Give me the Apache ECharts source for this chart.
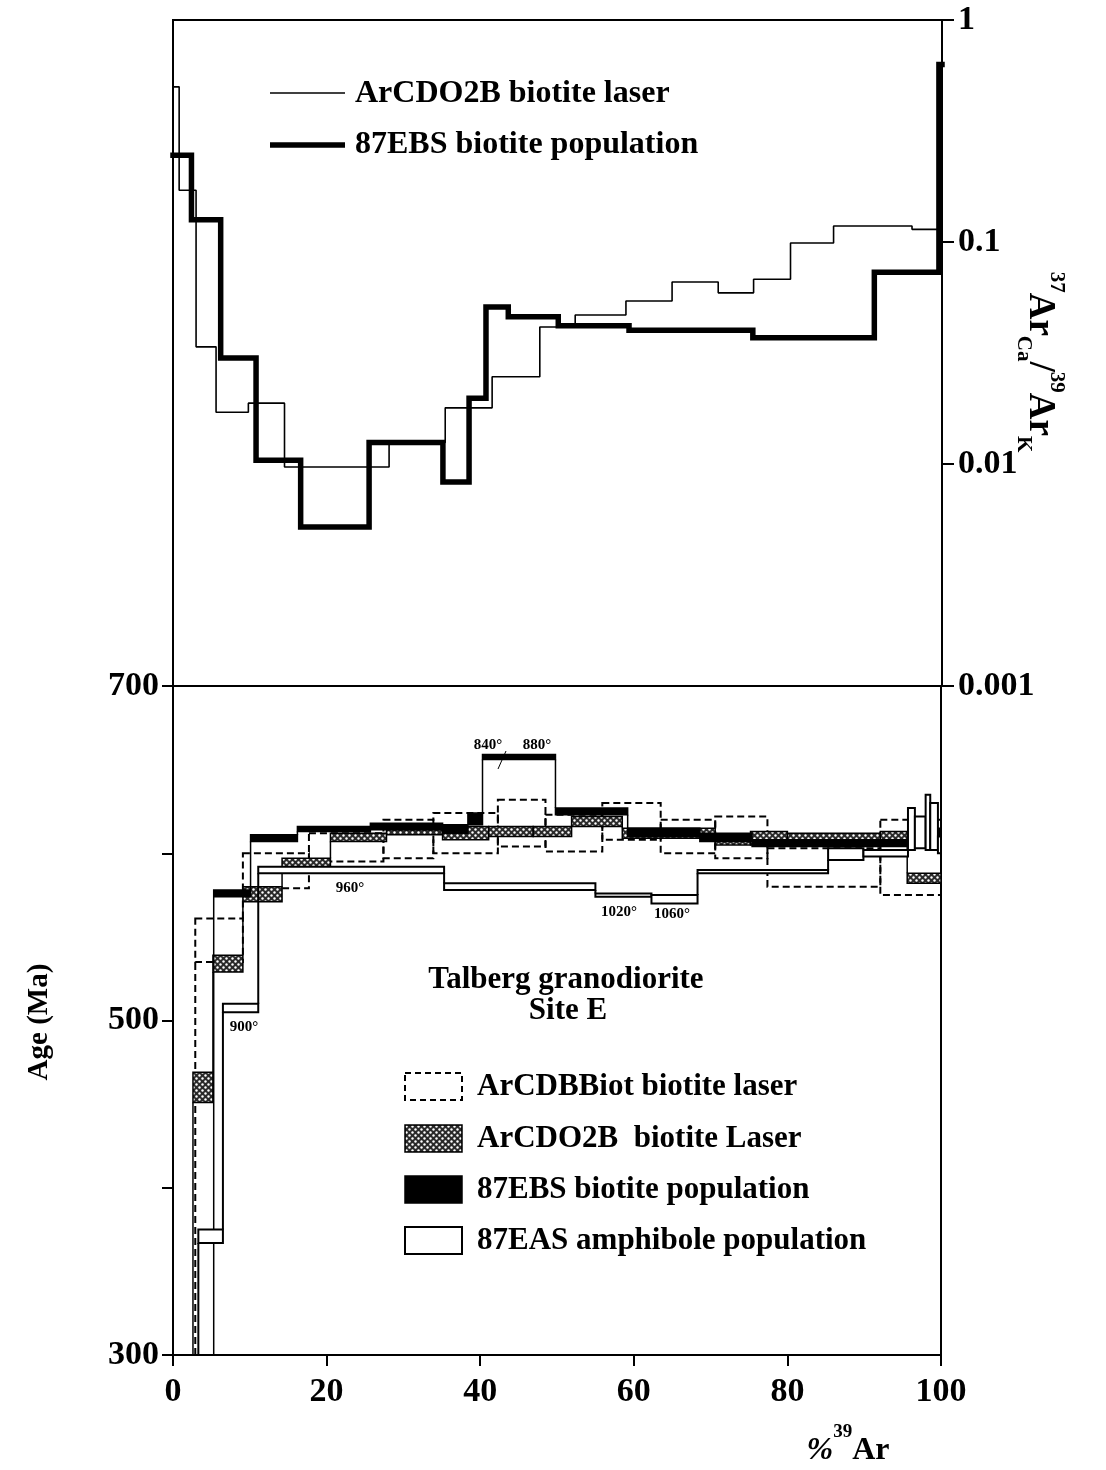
<!DOCTYPE html>
<html>
<head>
<meta charset="utf-8">
<script src="https://cdn.jsdelivr.net/npm/echarts@6/dist/echarts.min.js"></script>
<style>
html, body { margin: 0; padding: 0; background: #fff; }
#chart { width: 1106px; height: 1470px; }
</style>
</head>
<body>
<div id="chart"></div>
<script>
// top panel: 37ArCa/39ArK step spectra, x = cumulative %39Ar released
var ratioLaserBounds = [0, 0.8, 3.0, 5.6, 9.8, 14.5, 28.1, 35.4, 41.5, 47.7, 52.3, 58.9, 64.9, 70.9, 75.5, 80.3, 85.9, 96.1, 100];
var ratioLaserValues = [0.50, 0.171, 0.0337, 0.0171, 0.0188, 0.0097, 0.0125, 0.0179, 0.0247, 0.0414, 0.0469, 0.0542, 0.066, 0.059, 0.068, 0.099, 0.118, 0.114];
var ratioPopBounds = [0, 2.4, 6.2, 10.8, 16.6, 25.5, 35.1, 38.5, 40.7, 43.6, 50.1, 59.3, 75.4, 91.2, 99.6, 100];
var ratioPopValues = [0.246, 0.126, 0.030, 0.0104, 0.0052, 0.0125, 0.0083, 0.0198, 0.051, 0.046, 0.042, 0.040, 0.037, 0.073, 0.63];

// bottom panel: age spectra (Ma), each step = [bound i, bound i+1] x [low, high]
var cdbBounds = [0, 2.9, 9.1, 17.7, 27.4, 33.9, 42.3, 48.5, 55.9, 63.5, 70.6, 77.4, 92.1, 100];
var cdbLow    = [250, 535, 579, 595, 597, 600, 604, 601, 608, 600, 597, 580, 575];
var cdbHigh   = [260, 561, 600, 612, 620, 624, 632, 623, 630, 620, 622, 603, 620];

var cdoBounds = [0, 2.6, 5.2, 9.1, 14.2, 20.5, 27.8, 35.1, 41.1, 46.9, 51.9, 58.5, 70.6, 75.2, 80.0, 92.1, 95.6, 100];
var cdoLow    = [250, 451, 529, 571, 590, 607, 611, 608, 610, 610, 616, 609, 605, 605, 607, 606, 582];
var cdoHigh   = [260, 469, 539, 580, 597, 612, 614, 616, 616, 616, 622, 615, 611, 613, 612, 613, 588];

var ebsBounds = [0, 5.3, 10.1, 16.2, 25.7, 35.1, 38.4, 40.3, 49.8, 59.2, 68.6, 75.4, 99.3, 100];
var ebsLow    = [250, 574, 607, 613, 614, 612, 617, 656, 623, 610, 607, 604, 606];
var ebsHigh   = [260, 578, 611, 616, 618, 617, 624, 659, 627, 615, 612, 608, 615];

var easBounds = [0, 3.3, 6.5, 11.1, 35.3, 55.0, 62.3, 68.3, 85.3, 89.9, 95.7, 96.6, 98.0, 98.6, 99.6, 100];
var easLow    = [250, 367, 505, 588, 578, 574, 570, 588, 596, 598, 602, 603, 602, 602, 600];
var easHigh   = [260, 375, 510, 592, 582, 576, 575, 590, 603, 602, 627, 622, 635, 630, 610];

var xTicks = [0, 20, 40, 60, 80, 100];
var ageLabels = [300, 500, 700];

var FONT = 'Liberation Serif';

function stepLine(bounds, values) {
  return bounds.map(function (x, i) {
    return [x, values[Math.min(i, values.length - 1)]];
  });
}

function stepBoxes(bounds, low, high) {
  return low.map(function (v, i) {
    return [bounds[i], bounds[i + 1], low[i], high[i]];
  });
}

function clampAge(a) { return Math.max(300, Math.min(700, a)); }

// stipple pattern for the ArCDO2B boxes
var dotCanvas = document.createElement('canvas');
dotCanvas.width = 6; dotCanvas.height = 6;
var dctx = dotCanvas.getContext('2d');
dctx.fillStyle = '#2a2a2a';
dctx.fillRect(0, 0, 6, 6);
dctx.fillStyle = '#fff';
[[1.5, 1.5], [4.5, 4.5]].forEach(function (p) {
  dctx.beginPath();
  dctx.arc(p[0], p[1], 1.2, 0, Math.PI * 2);
  dctx.fill();
});
var stipple = { image: dotCanvas, repeat: 'repeat' };

function boxRenderer(low, high, boxStyle) {
  return function (params, api) {
    var i = params.dataIndex;
    var x1 = api.value(0), x2 = api.value(1);
    var lo = clampAge(api.value(2)), hi = clampAge(api.value(3));
    var p1 = api.coord([x1, hi]), p2 = api.coord([x2, lo]);
    var children = [{
      type: 'rect',
      shape: { x: p1[0], y: p1[1], width: p2[0] - p1[0], height: Math.max(p2[1] - p1[1], 0) },
      style: boxStyle
    }];
    if (i > 0) {
      var a = null, b = null;
      if (high[i - 1] < low[i]) { a = high[i - 1]; b = low[i]; }
      else if (high[i] < low[i - 1]) { a = high[i]; b = low[i - 1]; }
      if (a !== null) {
        var q1 = api.coord([x1, clampAge(a)]), q2 = api.coord([x1, clampAge(b)]);
        children.push({
          type: 'line',
          shape: { x1: q1[0], y1: q1[1], x2: q2[0], y2: q2[1] },
          style: { stroke: '#000', lineWidth: boxStyle.lineWidth, lineDash: boxStyle.lineDash || null }
        });
      }
    }
    return { type: 'group', children: children };
  };
}

var chart = echarts.init(document.getElementById('chart'));

var labelStyle = { color: '#000', fontFamily: FONT, fontWeight: 'bold', fontSize: 34 };

var option = {
  animation: false,
  backgroundColor: '#fff',
  grid: [
    { left: 173, top: 20, width: 769, height: 666, show: true, borderColor: '#000', borderWidth: 2, backgroundColor: 'transparent' },
    { left: 173, top: 686, width: 768, height: 669, show: true, borderColor: '#000', borderWidth: 2, backgroundColor: 'transparent' }
  ],
  xAxis: [
    { gridIndex: 0, type: 'value', min: 0, max: 100, axisLine: { show: false }, axisTick: { show: false }, axisLabel: { show: false }, splitLine: { show: false } },
    {
      gridIndex: 1, type: 'value', min: 0, max: 100, interval: 20,
      axisLine: { onZero: false, lineStyle: { color: '#000', width: 2 } },
      axisTick: { length: 11, lineStyle: { color: '#000', width: 2 } },
      axisLabel: Object.assign({ margin: 20, formatter: function (v) { return xTicks.indexOf(v) >= 0 ? v : ''; } }, labelStyle),
      splitLine: { show: false }
    }
  ],
  yAxis: [
    {
      gridIndex: 0, type: 'log', logBase: 10, min: 0.001, max: 1, position: 'right',
      axisLine: { show: true, onZero: false, lineStyle: { color: '#000', width: 2 } },
      axisTick: { show: true, length: 12, lineStyle: { color: '#000', width: 2 } },
      axisLabel: Object.assign({ margin: 16, formatter: function (v) { return String(+(+v).toPrecision(1)); } }, labelStyle),
      splitLine: { show: false }
    },
    {
      gridIndex: 1, type: 'value', min: 300, max: 700, interval: 100, position: 'left',
      axisLine: { show: true, onZero: false, lineStyle: { color: '#000', width: 2 } },
      axisTick: { show: true, length: 11, lineStyle: { color: '#000', width: 2 } },
      axisLabel: Object.assign({ margin: 14, formatter: function (v) { return ageLabels.indexOf(v) >= 0 ? v : ''; } }, labelStyle),
      splitLine: { show: false }
    }
  ],
  series: [
    {
      name: 'ArCDO2B biotite laser', type: 'line', xAxisIndex: 0, yAxisIndex: 0, step: 'end',
      data: stepLine(ratioLaserBounds, ratioLaserValues), symbol: 'none',
      lineStyle: { color: '#000', width: 1.6 }
    },
    {
      name: '87EBS biotite population', type: 'line', xAxisIndex: 0, yAxisIndex: 0, step: 'end',
      data: stepLine(ratioPopBounds, ratioPopValues), symbol: 'none',
      lineStyle: { color: '#000', width: 5.5, cap: 'square', join: 'miter' }
    },
    {
      name: 'ArCDBBiot biotite laser', type: 'custom', xAxisIndex: 1, yAxisIndex: 1,
      data: stepBoxes(cdbBounds, cdbLow, cdbHigh),
      renderItem: boxRenderer(cdbLow, cdbHigh, { fill: 'none', stroke: '#000', lineWidth: 2, lineDash: [7, 4] })
    },
    {
      name: 'ArCDO2B biotite Laser', type: 'custom', xAxisIndex: 1, yAxisIndex: 1,
      data: stepBoxes(cdoBounds, cdoLow, cdoHigh),
      renderItem: boxRenderer(cdoLow, cdoHigh, { fill: stipple, stroke: '#000', lineWidth: 1.5 })
    },
    {
      name: '87EBS biotite population', type: 'custom', xAxisIndex: 1, yAxisIndex: 1,
      data: stepBoxes(ebsBounds, ebsLow, ebsHigh),
      renderItem: boxRenderer(ebsLow, ebsHigh, { fill: '#000', stroke: '#000', lineWidth: 1.5 })
    },
    {
      name: '87EAS amphibole population', type: 'custom', xAxisIndex: 1, yAxisIndex: 1,
      data: stepBoxes(easBounds, easLow, easHigh),
      renderItem: boxRenderer(easLow, easHigh, { fill: '#fff', stroke: '#000', lineWidth: 2 })
    }
  ],
  graphic: [
    // top legend
    { type: 'line', shape: { x1: 270, y1: 93, x2: 345, y2: 93 }, style: { stroke: '#000', lineWidth: 1.6 } },
    { type: 'text', x: 355, y: 94, style: { text: 'ArCDO2B biotite laser', font: 'bold 32px "Liberation Serif"', fill: '#000', verticalAlign: 'middle' } },
    { type: 'line', shape: { x1: 270, y1: 145, x2: 345, y2: 145 }, style: { stroke: '#000', lineWidth: 5.5 } },
    { type: 'text', x: 355, y: 145, style: { text: '87EBS biotite population', font: 'bold 32px "Liberation Serif"', fill: '#000', verticalAlign: 'middle' } },

    // right axis title
    {
      type: 'text', x: 1040, y: 362, rotation: -Math.PI / 2,
      style: {
        text: '{sup|37}{b|Ar}{sub|Ca}{b|/}{sup|39}{b|Ar}{sub|K}',
        align: 'center', verticalAlign: 'middle', fill: '#000',
        rich: {
          b: { fontFamily: FONT, fontWeight: 'bold', fontSize: 37, lineHeight: 54, verticalAlign: 'middle' },
          sup: { fontFamily: FONT, fontWeight: 'bold', fontSize: 21, lineHeight: 54, verticalAlign: 'top' },
          sub: { fontFamily: FONT, fontWeight: 'bold', fontSize: 21, lineHeight: 54, verticalAlign: 'bottom' }
        }
      }
    },

    // left axis title
    { type: 'text', x: 40, y: 1022, rotation: Math.PI / 2, style: { text: 'Age (Ma)', font: 'bold 29px "Liberation Serif"', fill: '#000', align: 'center', verticalAlign: 'middle' } },

    // bottom axis title
    {
      type: 'text', x: 848, y: 1445,
      style: {
        text: '{it|%}{sup|39}{b|Ar}', align: 'center', verticalAlign: 'middle', fill: '#000',
        rich: {
          it: { fontFamily: FONT, fontWeight: 'bold', fontStyle: 'italic', fontSize: 32, lineHeight: 44, verticalAlign: 'bottom' },
          b: { fontFamily: FONT, fontWeight: 'bold', fontSize: 32, lineHeight: 44, verticalAlign: 'bottom' },
          sup: { fontFamily: FONT, fontWeight: 'bold', fontSize: 19, lineHeight: 44, verticalAlign: 'top' }
        }
      }
    },

    // sample title
    { type: 'text', x: 566, y: 980, style: { text: 'Talberg granodiorite', font: 'bold 31px "Liberation Serif"', fill: '#000', align: 'center', verticalAlign: 'middle' } },
    { type: 'text', x: 568, y: 1011, style: { text: 'Site E', font: 'bold 31px "Liberation Serif"', fill: '#000', align: 'center', verticalAlign: 'middle' } },

    // bottom legend
    { type: 'rect', shape: { x: 405, y: 1073, width: 57, height: 27 }, style: { fill: '#fff', stroke: '#000', lineWidth: 2, lineDash: [6, 4] } },
    { type: 'rect', shape: { x: 405, y: 1125, width: 57, height: 27 }, style: { fill: stipple, stroke: '#000', lineWidth: 1.5 } },
    { type: 'rect', shape: { x: 405, y: 1176, width: 57, height: 27 }, style: { fill: '#000', stroke: '#000', lineWidth: 1.5 } },
    { type: 'rect', shape: { x: 405, y: 1227, width: 57, height: 27 }, style: { fill: '#fff', stroke: '#000', lineWidth: 2 } },
    { type: 'text', x: 477, y: 1087, style: { text: 'ArCDBBiot biotite laser', font: 'bold 31px "Liberation Serif"', fill: '#000', verticalAlign: 'middle' } },
    { type: 'text', x: 477, y: 1139, style: { text: 'ArCDO2B  biotite Laser', font: 'bold 31px "Liberation Serif"', fill: '#000', verticalAlign: 'middle' } },
    { type: 'text', x: 477, y: 1190, style: { text: '87EBS biotite population', font: 'bold 31px "Liberation Serif"', fill: '#000', verticalAlign: 'middle' } },
    { type: 'text', x: 477, y: 1241, style: { text: '87EAS amphibole population', font: 'bold 31px "Liberation Serif"', fill: '#000', verticalAlign: 'middle' } },

    // step temperature notes
    { type: 'text', x: 488, y: 745, style: { text: '840°', font: 'bold 15px "Liberation Serif"', fill: '#000', align: 'center', verticalAlign: 'middle' } },
    { type: 'text', x: 537, y: 745, style: { text: '880°', font: 'bold 15px "Liberation Serif"', fill: '#000', align: 'center', verticalAlign: 'middle' } },
    { type: 'line', shape: { x1: 506, y1: 751, x2: 498, y2: 769 }, style: { stroke: '#000', lineWidth: 1 } },
    { type: 'text', x: 350, y: 888, style: { text: '960°', font: 'bold 15px "Liberation Serif"', fill: '#000', align: 'center', verticalAlign: 'middle' } },
    { type: 'text', x: 619, y: 912, style: { text: '1020°', font: 'bold 15px "Liberation Serif"', fill: '#000', align: 'center', verticalAlign: 'middle' } },
    { type: 'text', x: 672, y: 914, style: { text: '1060°', font: 'bold 15px "Liberation Serif"', fill: '#000', align: 'center', verticalAlign: 'middle' } },
    { type: 'text', x: 244, y: 1027, style: { text: '900°', font: 'bold 15px "Liberation Serif"', fill: '#000', align: 'center', verticalAlign: 'middle' } }
  ]
};

chart.setOption(option);
</script>
</body>
</html>
